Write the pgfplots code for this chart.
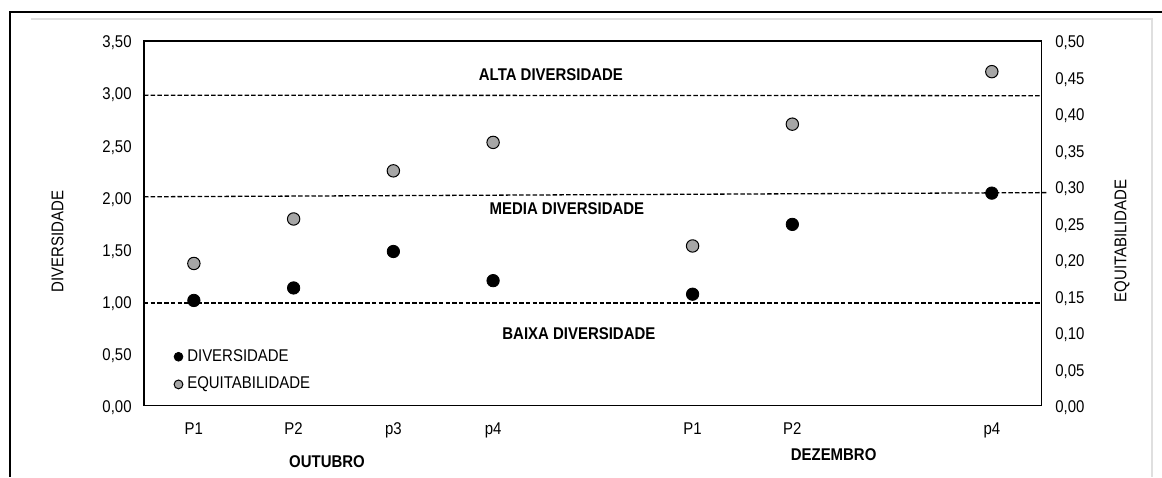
\documentclass[border=0pt]{standalone}
\usepackage{fontspec}
\setmainfont{Liberation Sans}[FakeStretch=0.88]
\usepackage{pgfplots}
\pgfplotsset{compat=1.18}
\usepackage{pgfplotstable}

\definecolor{eqgray}{RGB}{166,166,166}

% valores (posicao 5 e 8 vazias)
\pgfplotstableread{
x  div
1  1.01
2  1.13
3  1.48
4  1.20
6  1.07
7  1.74
9  2.04
}\divdata
\pgfplotstableread{
x  eq
1  0.195
2  0.256
3  0.322
4  0.361
6  0.219
7  0.386
9  0.458
}\eqdata

\pgfplotsset{
  common/.style={
    width=448.85pt, height=182.35pt, scale only axis,
    xmin=0.5, xmax=9.5,
    major tick length=0pt,
    axis line style={line width=0.6pt},
    tick label style={font=\fontsize{8.5}{10}\selectfont, inner sep=0pt},
    label style={font=\fontsize{8.5}{10}\selectfont},
    /pgf/number format/.cd, fixed, fixed zerofill, precision=2, use comma,
    assume math mode=true,
  },
  refline/.style={forget plot, black, line width=0.65pt, dash pattern=on 2.25pt off 1.1pt},
}

\begin{document}
\begin{tikzpicture}[font=\fontsize{8.5}{10}\selectfont]
\begin{axis}[
  common,
  ymin=0, ymax=3.5,
  ytick={0,0.5,...,3.5},
  xtick={1,2,3,4,6,7,9},
  xticklabels={P1,P2,p3,p4,P1,P2,p4},
  xticklabel style={anchor=base, yshift=-14.2pt},
  yticklabel style={anchor=base east, xshift=-6pt, yshift=-3.45pt},
  ylabel={DIVERSIDADE},
  ylabel style={at={(rel axis cs:-0.0964,0.450)}, anchor=center, rotate=0},
  clip=false,
  legend style={at={(rel axis cs:0.0331,0.1557)}, anchor=north west,
    draw=none, fill=none, inner sep=0pt, row sep=6.4pt,
    nodes={inner sep=0pt}, column sep=2.2pt},
  legend cell align=left,
  legend image code/.code={\draw[#1,mark size=2.2pt] plot coordinates {(0pt,0pt)};},
]
\addplot[refline] coordinates {(0.5,2.98) (9.5,2.975)};
\addplot[refline] coordinates {(0.5,2.005) (9.55,2.045)};
\addplot[refline] coordinates {(0.5,0.985) (9.5,0.985)};
\addplot[only marks, mark=*, mark size=3.1pt, draw=black, fill=black]
  table[x=x, y=div] {\divdata};
\addlegendentry{DIVERSIDADE}
\addlegendimage{only marks, mark=*, draw=black, line width=0.5pt, fill=eqgray}
\addlegendentry{EQUITABILIDADE}

\node[font=\fontsize{8.5}{10}\selectfont\bfseries] at (axis cs:4.58,3.18) {ALTA DIVERSIDADE};
\node[font=\fontsize{8.5}{10}\selectfont\bfseries] at (axis cs:4.74,1.89) {MEDIA DIVERSIDADE};
\node[font=\fontsize{8.5}{10}\selectfont\bfseries] at (axis cs:4.86,0.688) {BAIXA DIVERSIDADE};
\node[font=\fontsize{8.5}{10}\selectfont\bfseries] at (axis cs:2.335,-0.540) {OUTUBRO};
\node[font=\fontsize{8.5}{10}\selectfont\bfseries] at (axis cs:7.414,-0.473) {DEZEMBRO};
\end{axis}

\begin{axis}[
  common,
  ymin=0, ymax=0.5,
  ytick={0,0.05,...,0.5},
  axis x line=none,
  axis y line*=right,
  yticklabel style={anchor=base west, xshift=6.6pt, yshift=-3.45pt},
  ylabel={EQUITABILIDADE},
  ylabel style={at={(rel axis cs:1.0894,0.452)}, anchor=center, rotate=0},
  clip=false,
]
\addplot[only marks, mark=*, mark size=3.1pt, draw=black, line width=0.5pt, fill=eqgray]
  table[x=x, y=eq] {\eqdata};
\end{axis}

% moldura da figura original
\begin{scope}[x=0.5pt, y=-0.5pt, shift={(-72pt,202.85pt)}]
  \draw[gray!25, line width=0.6pt] (31,19) -- (1152,19) -- (1152,477);
  \draw[black, line width=0.6pt] (1162,12) -- (10,12) -- (10,477);
\end{scope}
\pgfresetboundingbox
\path[use as bounding box] (-72pt,-35.65pt) rectangle (509pt,202.85pt);
\end{tikzpicture}
\end{document}
